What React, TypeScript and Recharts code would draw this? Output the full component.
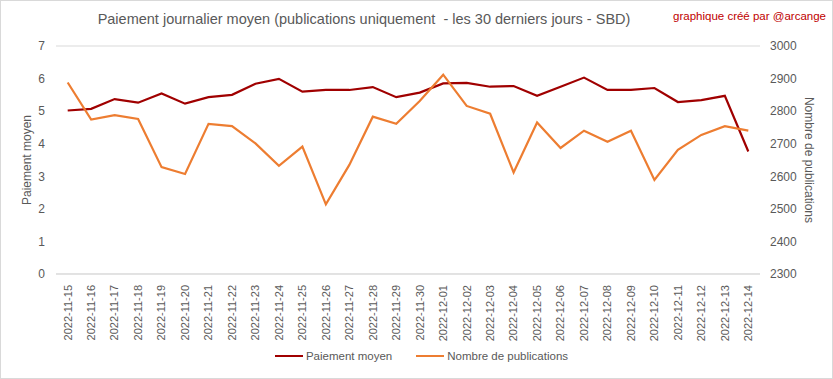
import React from "react";
import {
  LineChart,
  Line,
  XAxis,
  YAxis,
  CartesianGrid,
  Legend,
} from "recharts";

const dates = [
  "2022-11-15", "2022-11-16", "2022-11-17", "2022-11-18", "2022-11-19",
  "2022-11-20", "2022-11-21", "2022-11-22", "2022-11-23", "2022-11-24",
  "2022-11-25", "2022-11-26", "2022-11-27", "2022-11-28", "2022-11-29",
  "2022-11-30", "2022-12-01", "2022-12-02", "2022-12-03", "2022-12-04",
  "2022-12-05", "2022-12-06", "2022-12-07", "2022-12-08", "2022-12-09",
  "2022-12-10", "2022-12-11", "2022-12-12", "2022-12-13", "2022-12-14",
];

const paiementMoyen = [
  5.02, 5.07, 5.37, 5.26, 5.54, 5.23, 5.43, 5.5, 5.84, 5.99,
  5.6, 5.65, 5.65, 5.74, 5.43, 5.57, 5.85, 5.87, 5.75, 5.77,
  5.47, 5.75, 6.03, 5.65, 5.65, 5.71, 5.28, 5.34, 5.47, 3.76,
];

const nombrePublications = [
  2888, 2774, 2788, 2776, 2628, 2607, 2761, 2754, 2701, 2632,
  2691, 2514, 2635, 2783, 2761, 2831, 2912, 2816, 2792, 2612,
  2765, 2687, 2740, 2706, 2740, 2589, 2681, 2727, 2754, 2740,
];

const leftTicks = [0, 1, 2, 3, 4, 5, 6, 7];
const rightTicks = [2300, 2400, 2500, 2600, 2700, 2800, 2900, 3000];

const data = dates.map((d, i) => ({
  date: d,
  paiement: paiementMoyen[i],
  publications: nombrePublications[i],
}));

const FONT = "'Liberation Sans', Arial, sans-serif";
const TEXT = "#595959";
const RED = "#a00000";
const ORANGE = "#ed7d31";

const DateTick = (props: any) => {
  const { x, y, payload } = props;
  return (
    <g transform={`translate(${x},${y})`}>
      <text
        transform="rotate(-90)"
        x={-3}
        y={0}
        dy="0.35em"
        textAnchor="end"
        fill={TEXT}
        fontSize={11}
        fontFamily={FONT}
      >
        {payload.value}
      </text>
    </g>
  );
};

const LegendContent = () => {
  const items = [
    { label: "Paiement moyen", color: RED },
    { label: "Nombre de publications", color: ORANGE },
  ];
  return (
    <div
      style={{
        display: "flex",
        justifyContent: "center",
        gap: 24,
        fontFamily: FONT,
        fontSize: 11.5,
        color: TEXT,
        paddingTop: 6,
        paddingLeft: 10,
      }}
    >
      {items.map((it) => (
        <div key={it.label} style={{ display: "flex", alignItems: "center" }}>
          <div style={{ width: 28, height: 2, background: it.color, marginRight: 3 }} />
          <span>{it.label}</span>
        </div>
      ))}
    </div>
  );
};

export default function App() {
  return (
    <div
      style={{
        position: "fixed",
        left: 0,
        top: 0,
        width: 831,
        height: 377,
        border: "1px solid #d9d9d9",
        background: "#fff",
        fontFamily: FONT,
      }}
    >
      <div
        style={{
          position: "absolute",
          top: 10,
          left: 0,
          width: 726,
          textAlign: "center",
          fontSize: 14.5,
          color: TEXT,
        }}
      >
        Paiement journalier moyen (publications uniquement&nbsp; - les 30 derniers jours - SBD)
      </div>
      <div
        style={{
          position: "absolute",
          top: 9,
          right: 6,
          fontSize: 11.5,
          color: "#c00000",
        }}
      >
        graphique créé par @arcange
      </div>

      <LineChart
        width={831}
        height={377}
        data={data}
        margin={{ top: 45, right: 0, bottom: 8, left: 0 }}
      >
        <CartesianGrid vertical={false} stroke="#d9d9d9" />
        <XAxis
          dataKey="date"
          interval={0}
          tick={<DateTick />}
          tickLine={false}
          axisLine={{ stroke: "#d9d9d9" }}
          height={70}
          padding={{ left: 11.7, right: 11.7 }}
        />
        <YAxis
          yAxisId="left"
          domain={[0, 7]}
          ticks={leftTicks}
          width={55}
          axisLine={false}
          tickLine={false}
          tickMargin={5}
          tick={{ fill: TEXT, fontSize: 12, fontFamily: FONT }}
          label={{
            value: "Paiement moyen",
            angle: -90,
            position: "center",
            dx: -2,
            fill: TEXT,
            fontSize: 12,
            fontFamily: FONT,
          }}
        />
        <YAxis
          yAxisId="right"
          orientation="right"
          domain={[2300, 3000]}
          ticks={rightTicks}
          width={72}
          axisLine={false}
          tickLine={false}
          tickMargin={4}
          tick={{ fill: TEXT, fontSize: 12, fontFamily: FONT }}
          label={{
            value: "Nombre de publications",
            angle: 90,
            position: "center",
            dx: 13,
            fill: TEXT,
            fontSize: 12,
            fontFamily: FONT,
          }}
        />
        <Legend verticalAlign="bottom" height={26} content={<LegendContent />} />
        <Line
          yAxisId="left"
          dataKey="paiement"
          name="Paiement moyen"
          stroke={RED}
          strokeWidth={2.2}
          dot={false}
          type="linear"
          isAnimationActive={false}
        />
        <Line
          yAxisId="right"
          dataKey="publications"
          name="Nombre de publications"
          stroke={ORANGE}
          strokeWidth={2.2}
          dot={false}
          type="linear"
          isAnimationActive={false}
        />
      </LineChart>
    </div>
  );
}
